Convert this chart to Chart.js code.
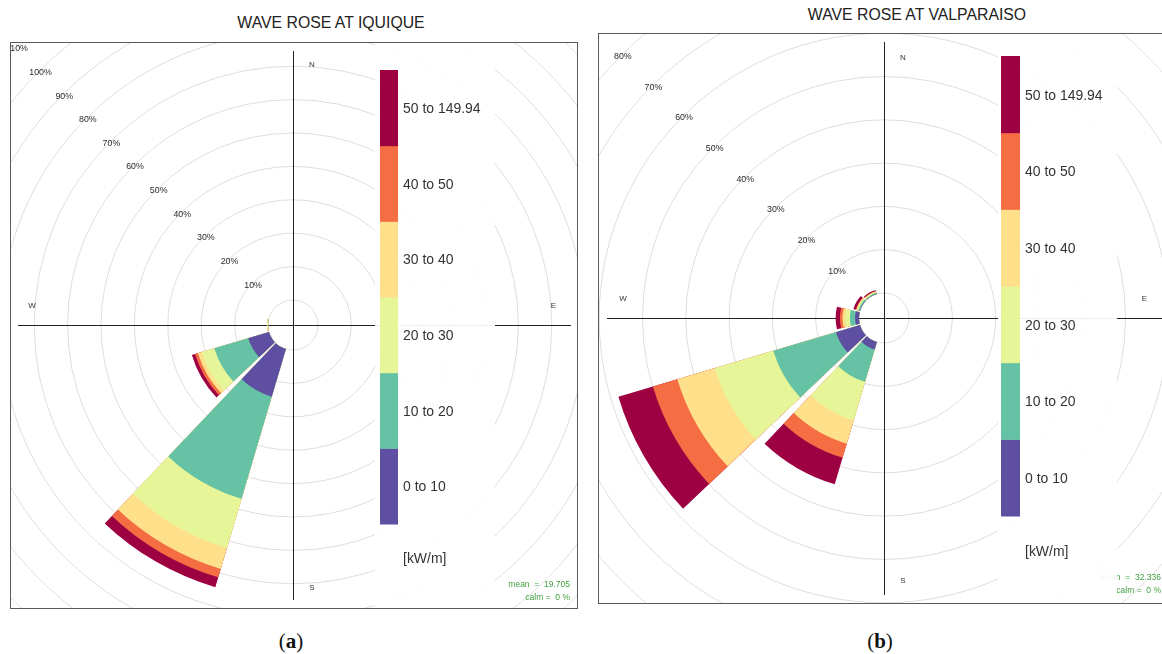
<!DOCTYPE html>
<html><head><meta charset="utf-8">
<script src="https://cdn.jsdelivr.net/npm/chart.js@4.4.1/dist/chart.umd.min.js"></script>
<style>
html,body{margin:0;padding:0;background:#fff;}
body{width:1162px;height:654px;position:relative;overflow:hidden;font-family:"Liberation Sans",Arial,sans-serif;}
.clip{position:absolute;overflow:hidden;}
.clip canvas{position:absolute;}
.frame{position:absolute;border:1px solid #5a5a5a;box-sizing:border-box;pointer-events:none;}
.title{position:absolute;width:400px;text-align:center;font-size:15.8px;line-height:18px;color:#222;}
.cap{position:absolute;width:100px;text-align:center;font-family:"Liberation Serif","DejaVu Serif",serif;font-size:21px;line-height:24px;color:#111;}
</style></head>
<body>
<div class="title" style="left:131px;top:14px">WAVE ROSE AT IQUIQUE</div>
<div class="title" style="left:717px;top:6px">WAVE ROSE AT VALPARAISO</div>
<div class="clip" style="left:10px;top:42px;width:567px;height:566px"><canvas id="c1" width="800" height="800" style="left:-117px;top:-117px"></canvas></div>
<div class="frame" style="left:10px;top:42px;width:568px;height:567px"></div>
<div class="clip" style="left:598px;top:33px;width:564px;height:570px"><canvas id="c2" width="800" height="800" style="left:-114px;top:-115px"></canvas></div>
<div class="frame" style="left:598px;top:33px;width:580px;height:571px"></div>
<div class="cap" style="left:241px;top:629px">(<b>a</b>)</div>
<div class="cap" style="left:830px;top:629px">(<b>b</b>)</div>
<script>
// ---- data ----
const directions = [0, 30, 60, 90, 120, 150, 180, 210, 240, 270, 300, 330];
const speedBins = ['0 to 10', '10 to 20', '20 to 30', '30 to 40', '40 to 50', '50 to 149.94'];
const binColors = ['#5E4FA2', '#66C2A5', '#E6F598', '#FEE08B', '#F46D43', '#9E0142'];
const unitLabel = '[kW/m]';

// Iquique: frequency (%) of each power bin per direction sector
const iqq_0_10   = [0, 0, 0, 0, 0, 0, 0, 14.9, 6.5, 0,    0, 0];
const iqq_10_20  = [0, 0, 0, 0, 0, 0, 0, 31.9, 10.6, 0.05, 0, 0];
const iqq_20_30  = [0, 0, 0, 0, 0, 0, 0, 15.4, 4.0, 0.25, 0, 0];
const iqq_30_40  = [0, 0, 0, 0, 0, 0, 0, 6.5,  1.1, 0,    0, 0];
const iqq_40_50  = [0, 0, 0, 0, 0, 0, 0, 2.6,  0.9, 0,    0, 0];
const iqq_50_150 = [0, 0, 0, 0, 0, 0, 0, 3.1,  1.0, 0,    0, 0];
const iqqTicks = [0, 10, 20, 30, 40, 50, 60, 70, 80, 90, 100, 110];
const iqqMean = '19.705';
const iqqCalm = '0';

// Valparaiso
const val_0_10   = [0, 0, 0, 0, 0, 0, 0, 1.8, 5.8,  0.9, 0.1, 0.1];
const val_10_20  = [0, 0, 0, 0, 0, 0, 0, 7.8, 15.1, 1.2, 0.3, 0.2];
const val_20_30  = [0, 0, 0, 0, 0, 0, 0, 9.3, 14.1, 1.0, 0.3, 0.2];
const val_30_40  = [0, 0, 0, 0, 0, 0, 0, 5.6, 9.0,  0.7, 0.2, 0.15];
const val_40_50  = [0, 0, 0, 0, 0, 0, 0, 3.4, 5.9,  0.6, 0.1, 0.1];
const val_50_150 = [0, 0, 0, 0, 0, 0, 0, 6.4, 8.3,  1.0, 0.6, 0.25];
const valTicks = [0, 10, 20, 30, 40, 50, 60, 70, 80];
const valMean = '32.336';
const valCalm = '0';

// ---- layout / style ----
const WEDGE = 27, GAP = 3;

function txt(ctx, s, x, y, font, color, align, sx) {
  ctx.save();
  ctx.font = font; ctx.fillStyle = color; ctx.textAlign = align || 'left'; ctx.textBaseline = 'middle';
  ctx.translate(x, y); ctx.scale(sx || 1, 1); ctx.fillText(s, 0, 0);
  ctx.restore();
}

function buildRose(canvasId, bins, ticks, lay, meanTxt, calmTxt) {
  const labels = [];
  directions.forEach(d => { labels.push(d + '°'); labels.push(''); });
  const datasets = [];
  let cum = directions.map(() => 0);
  bins.forEach((arr, b) => {
    cum = cum.map((c, i) => c + arr[i]);
    const data = [];
    cum.forEach(v => { data.push(v); data.push(0); });
    datasets.push({
      label: speedBins[b], data,
      backgroundColor: c => (c.dataIndex % 2 ? 'rgba(0,0,0,0)' : binColors[b]),
      borderWidth: 0,
      angle: c => (c.dataIndex % 2 ? GAP : WEDGE)
    });
  });
  const rMin = -lay.r0 / lay.step;
  const rMax = rMin + 400 / lay.step;

  const deco = {
    id: 'deco' + canvasId,
    afterDatasetUpdate(chart, args) {
      const r0 = chart.scales.r.getDistanceFromCenterForValue(0);
      args.meta.data.forEach(el => { el.innerRadius = r0; });
    },
    beforeDatasetsDraw(chart) {
      const ctx = chart.ctx, s = chart.scales.r;
      const cx = s.xCenter, cy = s.yCenter;
      ctx.save();
      ctx.strokeStyle = '#222'; ctx.lineWidth = 1;
      ctx.beginPath();
      ctx.moveTo(cx + 0.5, cy - lay.axisUp); ctx.lineTo(cx + 0.5, cy + lay.axisDown);
      ctx.moveTo(cx - lay.axisLeft, cy + 0.5); ctx.lineTo(cx + lay.axisRight, cy + 0.5);
      ctx.stroke();
      ctx.restore();
    },
    afterDatasetsDraw(chart) {
      const ctx = chart.ctx, s = chart.scales.r;
      const cx = s.xCenter, cy = s.yCenter;
      const px = x => x - lay.cx + cx, py = y => y - lay.cy + cy;
      // radial tick labels along NW diagonal
      ticks.forEach(v => {
        if (v === 0) return;
        const d = s.getDistanceFromCenterForValue(v) - 2;
        txt(ctx, v + '%', cx - d * Math.SQRT1_2, cy - d * Math.SQRT1_2, '8.8px "Liberation Sans", Arial', '#2a2a2a', 'center');
      });
      // compass
      const cf = '8px "Liberation Sans", Arial';
      txt(ctx, 'N', cx + 19, cy - 260, cf, '#333', 'center');
      txt(ctx, 'S', cx + 19, cy + 263, cf, '#333', 'center');
      txt(ctx, 'W', cx - 261, cy - 19, cf, '#333', 'center');
      txt(ctx, 'E', cx + 260.5, cy - 19, cf, '#333', 'center');
      // mean / calm
      const gf = '8.5px "Liberation Sans", Arial';
      txt(ctx, 'mean  =  ' + meanTxt, cx + 277, cy + 260, gf, '#3f9f3f', 'right');
      txt(ctx, 'calm =  ' + calmTxt + ' %', cx + 277, cy + 273, gf, '#3f9f3f', 'right');
      // legend box
      ctx.save();
      ctx.fillStyle = 'rgba(255,255,255,0.93)';
      ctx.fillRect(px(lay.boxL), 0, lay.boxR - lay.boxL, 800);
      ctx.restore();
      const segH = (lay.barB - lay.barT) / binColors.length;
      const lf = '15.5px "Liberation Sans", Arial';
      for (let b = 0; b < binColors.length; b++) {
        const k = binColors.length - 1 - b;
        const y0 = lay.barT + k * segH;
        ctx.fillStyle = binColors[b];
        ctx.fillRect(px(lay.barL), py(y0), lay.barR - lay.barL, segH + 0.5);
        txt(ctx, speedBins[b], px(lay.labX), py(y0 + segH / 2 + 1), lf, '#333', 'left', 0.9);
      }
      txt(ctx, unitLabel, px(lay.labX), py(lay.unitY), lf, '#333', 'left', 0.9);
    }
  };

  return new Chart(document.getElementById(canvasId), {
    type: 'polarArea',
    data: { labels, datasets },
    options: {
      responsive: false, animation: false, events: [],
      layout: { padding: 0 },
      plugins: { legend: { display: false }, tooltip: { enabled: false } },
      scales: {
        r: {
          min: rMin, max: rMax, bounds: 'data', startAngle: -WEDGE / 2,
          ticks: { display: false },
          grid: { color: '#dedede', lineWidth: 1, circular: true },
          angleLines: { display: false },
          pointLabels: { display: false },
          afterBuildTicks: sc => { sc.ticks = ticks.map(v => ({ value: v })); }
        }
      }
    },
    plugins: [deco]
  });
}

buildRose('c1', [iqq_0_10, iqq_10_20, iqq_20_30, iqq_30_40, iqq_40_50, iqq_50_150], iqqTicks,
  { cx: 293, cy: 325, r0: 25, step: 3.34, axisUp: 274, axisDown: 275, axisLeft: 275, axisRight: 278,
    boxL: 375, boxR: 495, barL: 380, barR: 398, barT: 70, barB: 524, labX: 403, unitY: 559 },
  iqqMean, iqqCalm);

buildRose('c2', [val_0_10, val_10_20, val_20_30, val_30_40, val_40_50, val_50_150], valTicks,
  { cx: 884, cy: 318, r0: 25, step: 4.33, axisUp: 276, axisDown: 277, axisLeft: 277, axisRight: 280,
    boxL: 998, boxR: 1117, barL: 1001, barR: 1020, barT: 56, barB: 516, labX: 1025, unitY: 552 },
  valMean, valCalm);
</script>
</body></html>
